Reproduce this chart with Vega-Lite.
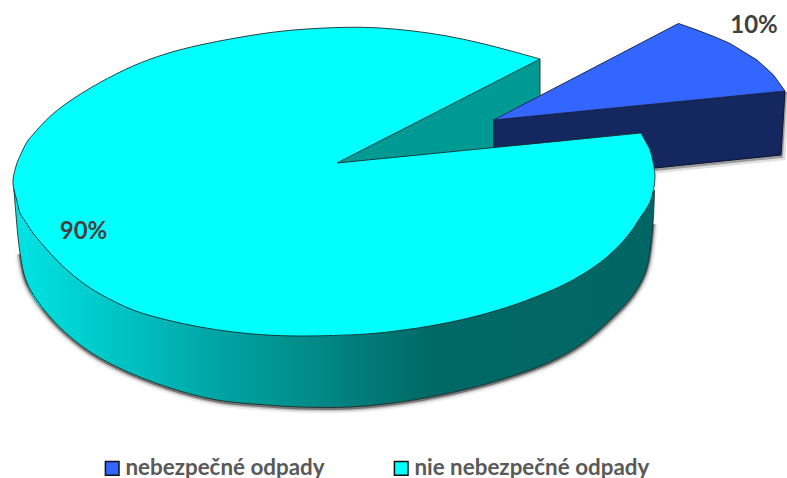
{"$schema":"https://vega.github.io/schema/vega-lite/v6.json","width":787,"height":478,"padding":0,"autosize":{"type":"none"},"background":"white","config":{"view":{"stroke":null}},
"datasets":{
"slices":[{"kategoria":"nebezpečné odpady","podiel":0.1,"x":754,"y":25.5},{"kategoria":"nie nebezpečné odpady","podiel":0.9,"x":83.5,"y":232}],
"wall":[{"x":14,"y":190,"y2":190},{"x":16,"y":190,"y2":215},{"x":20,"y":190,"y2":253},{"x":27,"y":190,"y2":283},{"x":50,"y":190,"y2":317},{"x":83,"y":190,"y2":347},{"x":117,"y":190,"y2":367},{"x":167,"y":190,"y2":387},{"x":217,"y":190,"y2":400},{"x":267,"y":190,"y2":405},{"x":300,"y":190,"y2":407},{"x":350,"y":190,"y2":407},{"x":400,"y":190,"y2":402},{"x":450,"y":190,"y2":393},{"x":500,"y":190,"y2":380},{"x":550,"y":190,"y2":362},{"x":583,"y":190,"y2":343},{"x":617,"y":190,"y2":313},{"x":633,"y":190,"y2":295},{"x":643,"y":190,"y2":278},{"x":648,"y":190,"y2":263},{"x":653,"y":190,"y2":223},{"x":654.5,"y":190,"y2":190}],
"notch":[{"x":337,"y":163,"y2":163},{"x":540,"y":59,"y2":150}],
"navy":[{"x":493.5,"y":120,"y2":147},{"x":493.6,"y":120,"y2":170},{"x":655,"y":104,"y2":168},{"x":781,"y":91.4,"y2":155},{"x":785,"y":91,"y2":91}],
"navyEdge":[{"x":655,"y":168},{"x":781,"y":155},{"x":785,"y":91}],
"blue":[{"x":493.5,"y":120,"y2":120},{"x":678.5,"y":23.5,"y2":101.6},{"x":697,"y":30,"y2":99.8},{"x":715,"y":37,"y2":98},{"x":730,"y":43.5,"y2":96.5},{"x":757,"y":60,"y2":93.8},{"x":773,"y":74.5,"y2":92.2},{"x":785,"y":91,"y2":91}],
"topLeft":[{"x":13,"y":180,"y2":190},{"x":17,"y":163,"y2":201},{"x":20,"y":156,"y2":213},{"x":27,"y":142,"y2":224},{"x":33,"y":134.5,"y2":233},{"x":50,"y":116.5,"y2":253},{"x":67,"y":103,"y2":270},{"x":83,"y":92.5,"y2":283},{"x":100,"y":82.5,"y2":294},{"x":133,"y":66,"y2":310},{"x":167,"y":53.5,"y2":320},{"x":200,"y":45,"y2":327},{"x":233,"y":38.5,"y2":332},{"x":267,"y":33,"y2":335},{"x":300,"y":29.5,"y2":336},{"x":337,"y":27.5,"y2":335.8}],
"topNotch":[{"x":337,"y":27.5,"y2":163},{"x":347,"y":27.3,"y2":158},{"x":380,"y":28,"y2":141},{"x":413,"y":31,"y2":124},{"x":447,"y":36,"y2":107},{"x":480,"y":43,"y2":90},{"x":513,"y":51.5,"y2":73},{"x":540,"y":59,"y2":59}],
"topRight":[{"x":337,"y":163,"y2":335.8},{"x":367,"y":160,"y2":334},{"x":400,"y":157,"y2":330.5},{"x":433,"y":153.5,"y2":325.5},{"x":467,"y":150,"y2":318.5},{"x":500,"y":147,"y2":309.5},{"x":533,"y":144,"y2":298},{"x":573,"y":140,"y2":280},{"x":607,"y":136.5,"y2":257},{"x":630,"y":134,"y2":233},{"x":640,"y":133.1,"y2":218},{"x":641,"y":133,"y2":216.5},{"x":643,"y":137,"y2":214},{"x":647,"y":144,"y2":207.5},{"x":650,"y":150,"y2":202},{"x":654,"y":167,"y2":187},{"x":655,"y":176,"y2":176}],
"outline":[{"n":2,"x":540,"y":59},{"n":3,"x":513,"y":51.5},{"n":4,"x":480,"y":43},{"n":5,"x":447,"y":36},{"n":6,"x":413,"y":31},{"n":7,"x":380,"y":28},{"n":8,"x":347,"y":27.3},{"n":9,"x":300,"y":29.5},{"n":10,"x":267,"y":33},{"n":11,"x":233,"y":38.5},{"n":12,"x":200,"y":45},{"n":13,"x":167,"y":53.5},{"n":14,"x":133,"y":66},{"n":15,"x":100,"y":82.5},{"n":16,"x":83,"y":92.5},{"n":17,"x":67,"y":103},{"n":18,"x":50,"y":116.5},{"n":19,"x":33,"y":134.5},{"n":20,"x":27,"y":142},{"n":21,"x":20,"y":156},{"n":22,"x":17,"y":163},{"n":23,"x":13,"y":180},{"n":24,"x":14,"y":190},{"n":25,"x":17,"y":201},{"n":26,"x":20,"y":213},{"n":27,"x":27,"y":224},{"n":28,"x":33,"y":233},{"n":29,"x":50,"y":253},{"n":30,"x":67,"y":270},{"n":31,"x":83,"y":283},{"n":32,"x":100,"y":294},{"n":33,"x":133,"y":310},{"n":34,"x":167,"y":320},{"n":35,"x":200,"y":327},{"n":36,"x":233,"y":332},{"n":37,"x":267,"y":335},{"n":38,"x":300,"y":336},{"n":39,"x":367,"y":334},{"n":40,"x":400,"y":330.5},{"n":41,"x":433,"y":325.5},{"n":42,"x":467,"y":318.5},{"n":43,"x":500,"y":309.5},{"n":44,"x":533,"y":298},{"n":45,"x":573,"y":280},{"n":46,"x":607,"y":257},{"n":47,"x":630,"y":233},{"n":48,"x":641,"y":216.5},{"n":49,"x":647,"y":207.5},{"n":50,"x":650,"y":202},{"n":51,"x":654,"y":187},{"n":52,"x":655,"y":176},{"n":53,"x":654,"y":167},{"n":54,"x":650,"y":150},{"n":55,"x":647,"y":144},{"n":56,"x":641,"y":133}],
"edges":[{"e":"a","n":1,"x":540,"y":59},{"e":"a","n":2,"x":540,"y":96},{"e":"b","n":1,"x":493.5,"y":120},{"e":"b","n":2,"x":493.5,"y":147},{"e":"d","n":1,"x":337,"y":163},{"e":"d","n":2,"x":540,"y":59},{"e":"f","n":1,"x":337,"y":163},{"e":"f","n":2,"x":641,"y":133}],
"rim":[{"n":1,"x":14,"y":190},{"n":2,"x":16,"y":215},{"n":3,"x":20,"y":253},{"n":4,"x":27,"y":283},{"n":5,"x":50,"y":317},{"n":6,"x":83,"y":347},{"n":7,"x":117,"y":367},{"n":8,"x":167,"y":387},{"n":9,"x":217,"y":400},{"n":10,"x":267,"y":405},{"n":11,"x":300,"y":407},{"n":12,"x":350,"y":407},{"n":13,"x":400,"y":402},{"n":14,"x":450,"y":393},{"n":15,"x":500,"y":380},{"n":16,"x":550,"y":362},{"n":17,"x":583,"y":343},{"n":18,"x":617,"y":313},{"n":19,"x":633,"y":295},{"n":20,"x":643,"y":278},{"n":21,"x":648,"y":263},{"n":22,"x":653,"y":223},{"n":23,"x":654.5,"y":190}]
},
"encoding":{
"x":{"field":"x","type":"quantitative","scale":{"domain":[0,787],"nice":false,"zero":false},"axis":null},
"y":{"field":"y","type":"quantitative","scale":{"domain":[478,0],"nice":false,"zero":false},"axis":null}
},
"layer":[
{"data":{"name":"rim"},"transform":[{"filter":"datum.n>=3 && datum.n<=22"}],"mark":{"type":"line","interpolate":"catmull-rom","color":"#000","opacity":0.07,"strokeWidth":10,"yOffset":1},"encoding":{"order":{"field":"n"}}},
{"data":{"name":"rim"},"transform":[{"filter":"datum.n>=3 && datum.n<=22"}],"mark":{"type":"line","interpolate":"catmull-rom","color":"#000","opacity":0.18,"strokeWidth":6,"yOffset":1},"encoding":{"order":{"field":"n"}}},
{"data":{"name":"rim"},"transform":[{"filter":"datum.n>=3 && datum.n<=22"}],"mark":{"type":"line","interpolate":"catmull-rom","color":"#000","opacity":0.4,"strokeWidth":3,"yOffset":1},"encoding":{"order":{"field":"n"}}},
{"data":{"name":"navyEdge"},"mark":{"type":"line","color":"#000","opacity":0.12,"strokeWidth":9,"yOffset":1},"encoding":{}},
{"data":{"name":"navyEdge"},"mark":{"type":"line","color":"#000","opacity":0.3,"strokeWidth":4,"yOffset":1},"encoding":{}},
{"data":{"name":"notch"},"mark":{"type":"area","color":"#009A94"},"encoding":{"y2":{"field":"y2"}}},
{"data":{"name":"navy"},"mark":{"type":"area","color":"#14285F","stroke":"#0a1230","strokeWidth":1},"encoding":{"y2":{"field":"y2"}}},
{"data":{"name":"blue"},"mark":{"type":"area","stroke":"#1a2a55","strokeWidth":1},"encoding":{"y2":{"field":"y2"},"color":{"datum":"nebezpečné odpady","type":"nominal","scale":{"domain":["nebezpečné odpady","nie nebezpečné odpady"],"range":["#3366FF","#00FFFF"]},"legend":{"orient":"none","legendX":101,"legendY":457,"direction":"horizontal","columns":2,"title":null,"symbolType":"square","symbolSize":185,"symbolStrokeColor":"#111","symbolStrokeWidth":1.5,"labelFont":"Lato","labelFontWeight":"bold","labelFontSize":22.4,"labelColor":"#595959","labelOffset":2,"columnPadding":65,"labelLimit":400,"symbolOpacity":1}}}},
{"data":{"name":"wall"},"mark":{"type":"area","interpolate":"monotone","color":{"gradient":"linear","x1":0,"x2":1,"y1":0,"y2":0,"stops":[{"offset":0,"color":"#00E4E4"},{"offset":0.134,"color":"#00CACA"},{"offset":0.29,"color":"#00AAAA"},{"offset":0.446,"color":"#008E8C"},{"offset":0.654,"color":"#006865"},{"offset":1,"color":"#006664"}]}},"encoding":{"y2":{"field":"y2"}}},
{"data":{"name":"topLeft"},"mark":{"type":"area","interpolate":"monotone"},"encoding":{"y2":{"field":"y2"},"color":{"datum":"nie nebezpečné odpady","type":"nominal"}}},
{"data":{"name":"topNotch"},"mark":{"type":"area","interpolate":"monotone"},"encoding":{"y2":{"field":"y2"},"color":{"datum":"nie nebezpečné odpady","type":"nominal"}}},
{"data":{"name":"topRight"},"mark":{"type":"area","interpolate":"monotone"},"encoding":{"y2":{"field":"y2"},"color":{"datum":"nie nebezpečné odpady","type":"nominal"}}},
{"data":{"name":"edges"},"mark":{"type":"line","color":"#1c2c2c","strokeWidth":0.9},"encoding":{"detail":{"field":"e"},"order":{"field":"n"}}},
{"data":{"name":"rim"},"mark":{"type":"line","interpolate":"catmull-rom","color":"#1c2c2c","strokeWidth":0.9},"encoding":{"order":{"field":"n"}}},
{"data":{"name":"outline"},"mark":{"type":"line","interpolate":"catmull-rom","color":"#1c2c2c","strokeWidth":0.9},"encoding":{"order":{"field":"n"}}},
{"data":{"name":"slices"},"mark":{"type":"text","font":"Lato","fontWeight":"bold","fontSize":24,"color":"#404040"},"encoding":{"text":{"field":"podiel","type":"quantitative","format":".0%"}}}
]}
